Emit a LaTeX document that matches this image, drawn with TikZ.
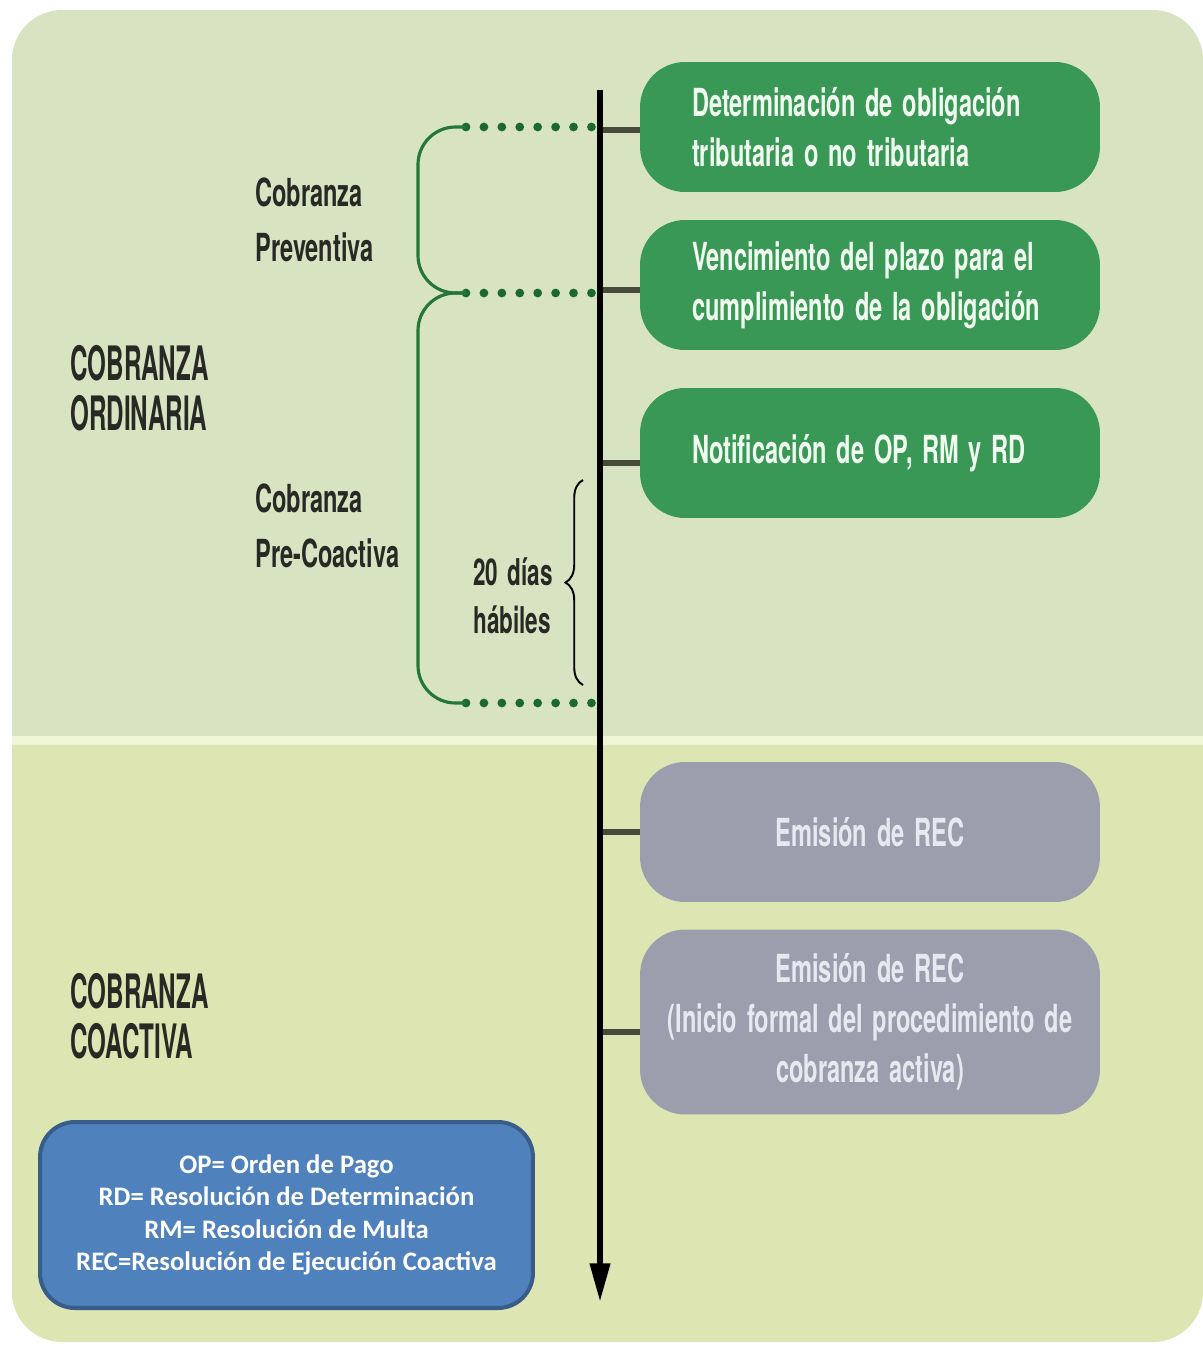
\documentclass[tikz,border=0pt]{standalone}
\usepackage{fontspec}
\setmainfont{TeX Gyre Heros}
\newfontfamily\cond[FakeStretch=0.61,WordSpace=1.5,UprightFont=*-Bold]{TeX Gyre Heros}
\newfontfamily\condcaps[FakeStretch=0.51,UprightFont=*-Bold]{TeX Gyre Heros}
\newfontfamily\leg{Carlito}
\usetikzlibrary{decorations.pathreplacing,arrows.meta}
\definecolor{topbg}{RGB}{216,228,193}
\definecolor{botbg}{RGB}{221,230,178}
\definecolor{sepc}{RGB}{238,246,214}
\definecolor{gbox}{RGB}{58,152,86}
\definecolor{graybox}{RGB}{156,158,174}
\definecolor{brkc}{RGB}{38,118,58}
\definecolor{dotc}{RGB}{28,105,48}
\definecolor{tickc}{RGB}{72,74,58}
\definecolor{legfill}{RGB}{79,129,189}
\definecolor{legdraw}{RGB}{56,93,138}
\definecolor{labc}{RGB}{40,40,36}
\tikzset{
  greenbox/.style={fill=gbox, rounded corners=0.9cm, minimum width=9.2cm, minimum height=2.6cm,
    text width=7.12cm, inner xsep=1.04cm, align=flush left, text={rgb,255:red,240;green,252;blue,240}, font=\cond\fontsize{22}{28.5}\selectfont},
  greybox/.style={fill=graybox, rounded corners=0.9cm, minimum width=9.2cm, minimum height=2.8cm,
    text width=8.6cm, inner xsep=0.3cm, align=flush center, text={rgb,255:red,232;green,233;blue,240}, font=\cond\fontsize{22}{28.5}\selectfont},
  lab/.style={anchor=west, align=left, text=labc, inner sep=0pt, font=\cond\fontsize{22}{31.5}\selectfont},
  biglab/.style={anchor=west, align=left, text=labc, inner sep=0pt, font=\condcaps\fontsize{27}{28.5}\selectfont},
  tickline/.style={draw=tickc, line width=3.4pt},
  brk/.style={draw=brkc, line width=1.8pt, rounded corners=0.75cm},
  dotline/.style={draw=dotc, line width=5pt, line cap=round, dash pattern=on 0pt off 10.2pt},
}
\begin{document}
\begin{tikzpicture}[x=0.02cm,y=-0.02cm]
\useasboundingbox (0,0) rectangle (1203,1346);
\fill[white] (0,0) rectangle (1203,1346);
% backgrounds
\fill[topbg, rounded corners=1cm] (12,10) rectangle (1203,790);
\fill[botbg, rounded corners=1cm] (12,742) rectangle (1203,1342);
\fill[botbg] (12,742) rectangle (1203,820);
\fill[sepc] (12,736) rectangle (1203,745);

% boxes
\node[greenbox] (b1) at (870,127) {Determinación de obligación\\tributaria o no tributaria};
\node[greenbox] (b2) at (870,285) {Vencimiento del plazo para el\\cumplimiento de la obligación};
\node[greenbox] (b3) at (870,453) {Notificación de OP, RM y RD};
\node[greybox] (g1) at (870,832) {Emisión de REC};
\node[greybox, minimum height=3.7cm] (g2) at (870,1022) {Emisión de REC\\(Inicio formal del procedimiento de\\cobranza activa)};

% axis
\coordinate (atop) at (600,90);
\coordinate (abot) at (600,1302);
\coordinate (t1) at (600,130);
\coordinate (t2) at (600,290);
\coordinate (t3) at (600,463);
\coordinate (t4) at (600,832);
\coordinate (t5) at (600,1032);
\draw[tickline] (t1) -- (t1 -| b1.west);
\draw[tickline] (t2) -- (t2 -| b2.west);
\draw[tickline] (t3) -- (t3 -| b3.west);
\draw[tickline] (t4) -- (t4 -| g1.west);
\draw[tickline] (t5) -- (t5 -| g2.west);
\draw[line width=3.4pt, -{Triangle[length=22pt,width=11pt]}] (atop) -- (abot);

% dotted lines and brackets
\coordinate (d1) at (466,127);
\coordinate (d2) at (466,293);
\coordinate (d3) at (466,703);
\coordinate (e1) at (592,127);
\coordinate (e2) at (592,293);
\coordinate (e3) at (592,703);
\draw[dotline] (d1) -- (e1);
\draw[dotline] (d2) -- (e2);
\draw[dotline] (d3) -- (e3);
\draw[brk] (d1) -- (418,127) -- (418,293) -- (d2);
\draw[brk] (d2) -- (418,293) -- (418,703) -- (d3);

% labels
\node[lab] (cp) at (255,220) {Cobranza\\Preventiva};
\node[lab] (cpc) at (255,526) {Cobranza\\Pre-Coactiva};
\node[biglab] (co) at (70,388) {COBRANZA\\ORDINARIA};
\node[biglab] (cc) at (70,1016) {COBRANZA\\COACTIVA};
\node[lab, font=\cond\fontsize{21}{27}\selectfont] (dh) at (473,596) {20 días\\hábiles};
\draw[line width=1.1pt, decorate, decoration={brace, amplitude=10pt}] (583,685) -- (583,480);

% legend
\node[fill=legfill, draw=legdraw, line width=2.3pt, rounded corners=0.7cm, minimum width=9.86cm, minimum height=3.72cm,
  align=center, text=white, font=\leg\bfseries\fontsize{15.2}{18.5}\selectfont] (legend) at (286.5,1215)
  {OP= Orden de Pago\\RD= Resolución de Determinación\\RM= Resolución de Multa\\REC=Resolución de Ejecución Coactiva};
\end{tikzpicture}
\end{document}
